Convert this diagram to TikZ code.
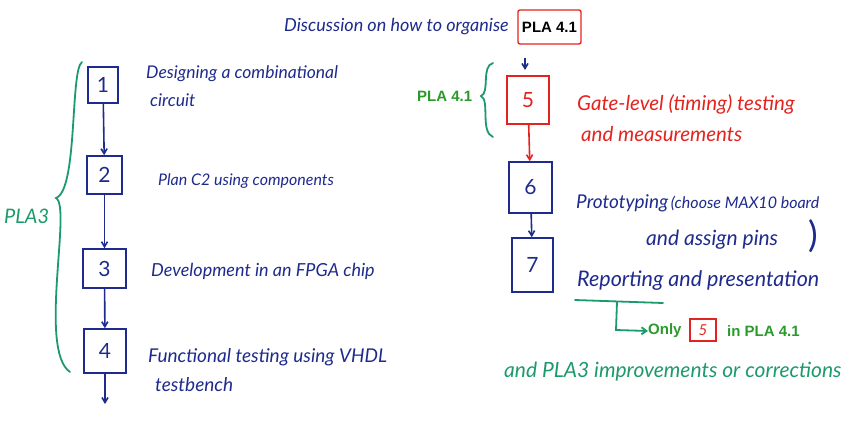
\documentclass[tikz,border=0pt]{standalone}
\usepackage{fontspec}
\setmainfont{Lato}
\newfontfamily\arialf{Liberation Sans}
\usetikzlibrary{arrows.meta}
\definecolor{inkblue}{HTML}{1E2A8C}
\definecolor{inkred}{HTML}{E3231E}
\definecolor{inkgreen}{HTML}{1C9A6C}
\definecolor{txtgreen}{HTML}{2A9A2A}
\newcommand{\fsz}[1]{\itshape\fontsize{#1}{#1}\selectfont}
\tikzset{
  hand/.style={font=\fsz{14}, anchor=west, inner sep=0pt},
  bluetxt/.style={hand, text=inkblue},
  redtxt/.style={hand, text=inkred},
  numbox/.style={draw=inkblue, line width=1.6pt, text=inkblue, font=\fontsize{21}{22}\selectfont, inner sep=0pt},
  redbox/.style={numbox, draw=inkred, text=inkred},
  barrow/.style={draw=inkblue, line width=1.6pt, -{Straight Barb[length=5pt,width=6pt]}},
  rarrow/.style={draw=inkred, line width=1.6pt, -{Straight Barb[length=5pt,width=6pt]}},
  garrow/.style={draw=inkgreen, line width=1.8pt, -{Straight Barb[length=5pt,width=7pt]}},
  brace/.style={draw=inkgreen, line width=1.8pt, line cap=round},
  printed/.style={font=\arialf\bfseries\fontsize{15}{17}\selectfont, inner sep=0pt, anchor=west},
}
\begin{document}
\begin{tikzpicture}[x=1pt,y=-1pt]
\useasboundingbox (0,0) rectangle (868,424);
% title
\node[bluetxt, font=\fsz{18}] (title) at (284,27) {Discussion on how to organise};
\node[draw=inkred, line width=1.4pt, rounded corners=2pt, minimum width=63pt, minimum height=34pt, inner sep=0pt, font=\arialf\bfseries\fontsize{15}{17}\selectfont] (tbox) at (549.5,27) {PLA 4.1};
% left column
\node[numbox, minimum width=30pt, minimum height=36pt] (b1) at (103,85) {1};
\node[numbox, minimum width=35pt, minimum height=38pt] (b2) at (104.5,175) {2};
\node[numbox, minimum width=43pt, minimum height=39pt] (b3) at (104.5,268.5) {3};
\node[numbox, minimum width=42pt, minimum height=44pt] (b4) at (105,351) {4};
\coordinate (e4) at (105,404);
\draw[barrow] (b1) -- (b2);
\draw[barrow] (b2) -- (b3);
\draw[barrow] (b3) -- (b4);
\draw[barrow] (b4) -- (e4);
\node[bluetxt, font=\fsz{17.5}] (t1a) at (146,74) {Designing a combinational};
\node[bluetxt, font=\fsz{17.5}] (t1b) at (150,100) {circuit};
\node[bluetxt, font=\fsz{16}] (t2) at (158,181) {Plan C2 using components};
\node[bluetxt, font=\fsz{18}] (t3) at (151,271) {Development in an FPGA chip};
\node[bluetxt, font=\fsz{19}] (t4a) at (148,357) {Functional testing using VHDL};
\node[bluetxt, font=\fsz{19}] (t4b) at (155,385) {testbench};
% left brace
\draw[brace] (82,62) .. controls (70,70) and (78,190) .. (56,198)
  .. controls (72,206) and (38,350) .. (70,372);
\node[hand, text=inkgreen, font=\fsz{20}] (pla3) at (4,216) {PLA3};
% right column
\coordinate (s5) at (525,58);
\node[redbox, minimum width=42pt, minimum height=48pt] (b5) at (528,100) {5};
\node[numbox, minimum width=43pt, minimum height=51pt] (b6) at (530.5,187.5) {6};
\node[numbox, minimum width=41pt, minimum height=54pt] (b7) at (532.5,265) {7};
\draw[barrow] (s5) -- ++(0,12);
\draw[rarrow] (b5) -- (b6);
\draw[barrow] (b6) -- (b7);
\draw[brace] (493,63) .. controls (481,66) and (490,93) .. (481,96)
  .. controls (490,100) and (480,132) .. (493,137);
\node[printed, text=txtgreen] (pla41) at (417,96) {PLA 4.1};
\node[redtxt, font=\fsz{20.5}] (t5a) at (577,104) {Gate-level (timing) testing};
\node[redtxt, font=\fsz{20.5}] (t5b) at (581,134) {and measurements};
\node[bluetxt, anchor=base west] (t6a) at (576,208) {{\fsz{19}Prototyping}{\fsz{16}\,(choose MAX10 board}};
\node[bluetxt, font=\fsz{21}] (t6b) at (646,240) {and assign pins};
\node[bluetxt, font=\fontsize{36}{36}\selectfont] (t6c) at (808,236) {)};
\node[bluetxt, font=\fsz{21.5}] (t7) at (577,281) {Reporting and presentation};
\coordinate (u1) at (575,300);
\coordinate (u2) at (663,303);
\draw[brace] (u1) -- (u2);
\coordinate (ua) at (617,302);
\node[printed, text=txtgreen] (only) at (648,331) {Only};
\node[draw=inkred, line width=1.3pt, text=inkred, minimum width=26pt, minimum height=22pt, inner sep=0pt, font=\itshape\fontsize{15}{17}\selectfont] (b5s) at (703,330) {5};
\node[printed, text=txtgreen] (inpla) at (727,331) {in PLA 4.1};
\draw[garrow] (ua) -- (616,330) -- (only.west);
\node[hand, text=inkgreen, font=\fsz{21}] (imp) at (504,372) {and PLA3 improvements or corrections};
\end{tikzpicture}
\end{document}
